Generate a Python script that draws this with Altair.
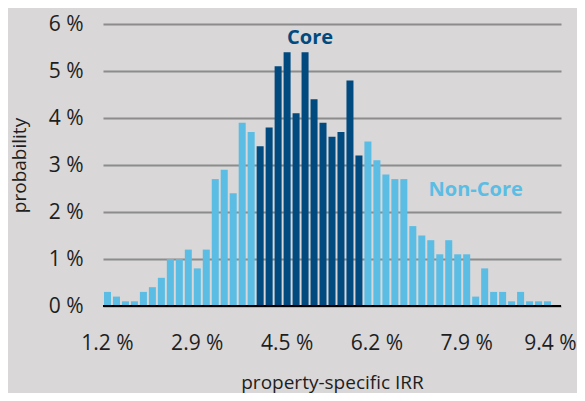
import altair as alt
import pandas as pd

# probability (%) per IRR bin, left to right (51 bins, last one empty)
left_noncore = [0.3, 0.2, 0.1, 0.1, 0.3, 0.4, 0.6, 1.0, 1.0, 1.2, 0.8, 1.2,
                2.7, 2.9, 2.4, 3.9, 3.7]
core = [3.4, 3.8, 5.1, 5.4, 4.1, 5.4, 4.4, 3.9, 3.6, 3.7, 4.8, 3.2]
right_noncore = [3.5, 3.1, 2.8, 2.7, 2.7, 1.7, 1.5, 1.4, 1.1, 1.4, 1.1, 1.1,
                 0.2, 0.8, 0.3, 0.3, 0.1, 0.3, 0.1, 0.1, 0.1, 0.0]
x_tick_labels = ["1.2 %", "2.9 %", "4.5 %", "6.2 %", "7.9 %", "9.4 %"]
y_ticks = [0, 1, 2, 3, 4, 5, 6]

values = left_noncore + core + right_noncore
segments = (["Non-Core"] * len(left_noncore) + ["Core"] * len(core)
            + ["Non-Core"] * len(right_noncore))
df = pd.DataFrame({"bin": list(range(len(values))), "prob": values, "segment": segments})

DARK = "#004a7f"
LIGHT = "#5bbde4"
TEXT = "#1e1e1e"
FONT = "Open Sans"

tick_bins = [i * 10 for i in range(len(x_tick_labels))]
label_expr = "[" + ",".join("'" + s + "'" for s in x_tick_labels) + "][datum.value / 10]"
last_bin = tick_bins[-1]

x_enc = alt.X(
    "bin:O",
    scale=alt.Scale(paddingInner=0.22, paddingOuter=0.11),
    axis=alt.Axis(
        values=tick_bins, labelExpr=label_expr, labelAngle=0, ticks=False,
        domain=False, grid=False, labelPadding=26, labelFontSize=21,
        labelFont=FONT, labelColor=TEXT,
        labelOffset=alt.condition(f"datum.value == {last_bin}", alt.value(-6), alt.value(0)),
        title="property-specific IRR",
        titleFont=FONT, titleFontSize=19, titleFontWeight="normal",
        titleColor=TEXT, titleY=82, titleBaseline="alphabetic",
    ),
)
y_enc = alt.Y(
    "prob:Q",
    scale=alt.Scale(domain=[0, 6], nice=False),
    axis=alt.Axis(
        values=y_ticks, labelExpr="datum.value + ' %'", ticks=False,
        domain=False, grid=True, gridColor="#8c8c8c", gridWidth=2,
        labelPadding=20, labelFontSize=21, labelFont=FONT, labelColor=TEXT,
        title="probability", titleFont=FONT, titleFontSize=19,
        titleFontWeight="normal", titleColor=TEXT, titleX=-74,
    ),
)

bars = alt.Chart(df).mark_bar().encode(
    x=x_enc,
    y=y_enc,
    color=alt.Color("segment:N",
                    scale=alt.Scale(domain=["Core", "Non-Core"], range=[DARK, LIGHT]),
                    legend=None),
)

baseline = alt.Chart(df).mark_rule(color="black", strokeWidth=2.2).encode(
    y=alt.datum(0)
)

ann_df = pd.DataFrame({"bin": [22, 41], "prob": [5.57, 2.34],
                       "label": ["Core", "Non-Core"], "segment": ["Core", "Non-Core"]})
ann_core = alt.Chart(ann_df[ann_df.label == "Core"]).mark_text(
    font=FONT, fontSize=20, fontWeight="bold", color=DARK, baseline="alphabetic", dx=5
).encode(x="bin:O", y="prob:Q", text="label:N")
ann_non = alt.Chart(ann_df[ann_df.label == "Non-Core"]).mark_text(
    font=FONT, fontSize=20, fontWeight="bold", color=LIGHT, baseline="alphabetic"
).encode(x="bin:O", y="prob:Q", text="label:N")

chart = alt.layer(bars, baseline, ann_core, ann_non).properties(
    width=458, height=282, background="#d9d7d7",
    padding={"left": 95, "top": 16, "right": 16, "bottom": 87},
    autosize=alt.AutoSizeParams(type="none"),
).configure_view(stroke=None)

chart.save("out.html", embed_options={"renderer": "svg", "actions": False})
